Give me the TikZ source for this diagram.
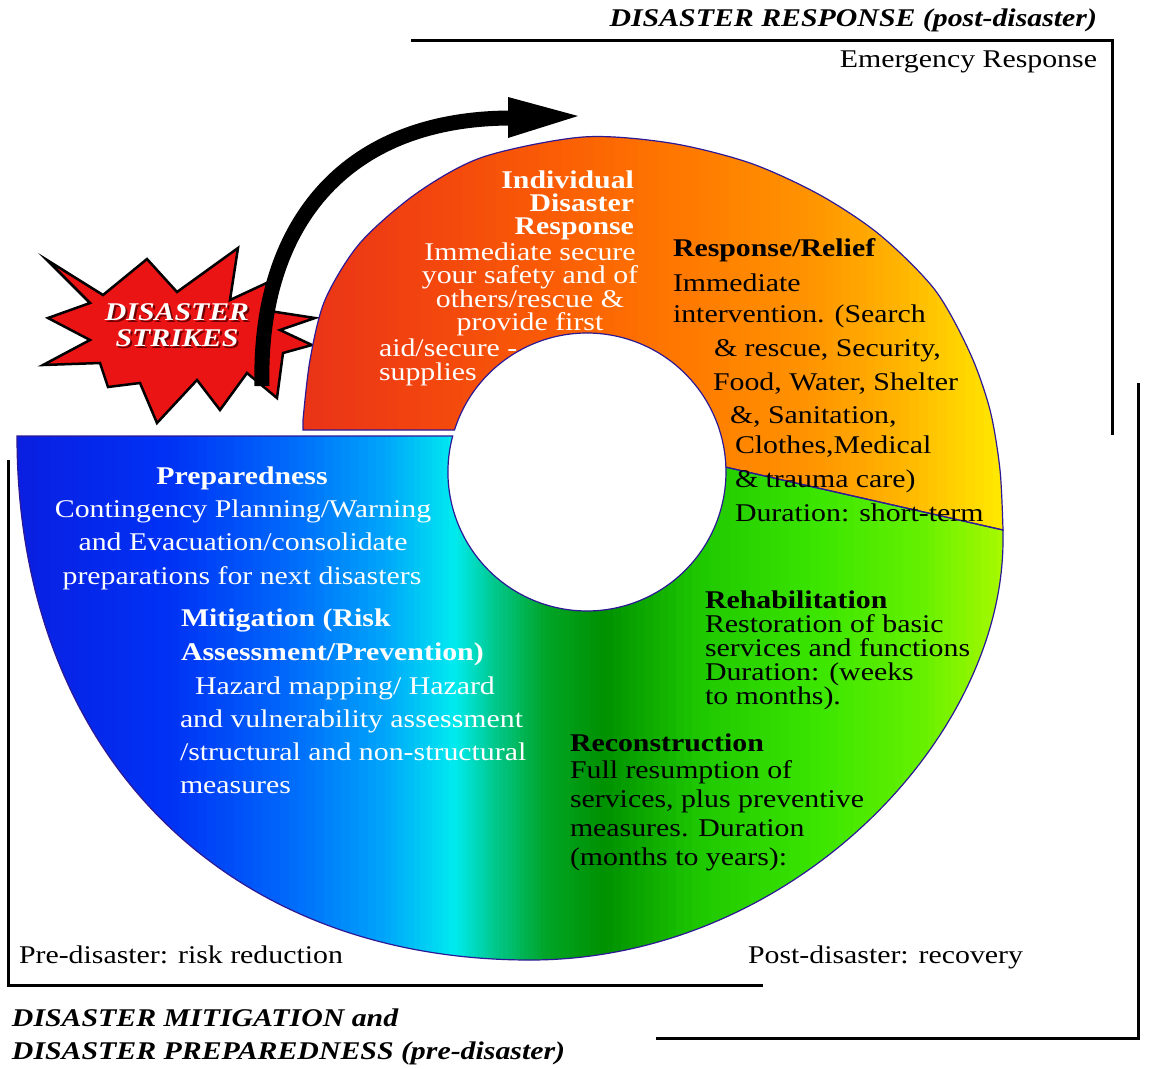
\documentclass[tikz,border=0pt]{standalone}
\usepackage{fontspec}
\setmainfont{Liberation Serif}[FakeStretch=1.17]
\usetikzlibrary{calc}
\definecolor{l1}{RGB}{10,30,225}
\definecolor{l2}{RGB}{0,50,245}
\definecolor{l3}{RGB}{0,100,250}
\definecolor{l4}{RGB}{0,165,250}
\definecolor{l5}{RGB}{0,235,240}
\definecolor{l6}{RGB}{0,200,140}
\definecolor{l7}{RGB}{0,165,40}
\definecolor{l8}{RGB}{0,145,0}
\definecolor{l9}{RGB}{30,200,0}
\definecolor{l10}{RGB}{60,230,0}
\definecolor{l11}{RGB}{100,240,0}
\definecolor{l12}{RGB}{175,250,0}
\definecolor{t1}{RGB}{232,50,25}
\definecolor{t2}{RGB}{242,68,15}
\definecolor{t3}{RGB}{250,92,5}
\definecolor{t4}{RGB}{255,120,0}
\definecolor{t5}{RGB}{255,145,0}
\definecolor{t6}{RGB}{255,180,0}
\definecolor{t7}{RGB}{255,238,0}
\definecolor{ringedge}{RGB}{45,25,150}
\definecolor{starred}{RGB}{235,20,20}
\definecolor{starshadow}{RGB}{110,0,0}
\newcommand\fs{\fontsize{25.5}{30}\selectfont}
\newcommand\shad[1]{\rlap{\kern2pt\raisebox{-2pt}{\color{starshadow}#1}}#1}
\newcommand\gstrips[4]{%
  \foreach \k in {0,...,11}{%
    \pgfmathsetmacro\xa{#1+(#2-#1)*\k/12}%
    \pgfmathsetmacro\xb{#1+(#2-#1)*(\k+1)/12+0.8}%
    \pgfmathsetmacro\pc{100*(\k+0.5)/12}%
    \colorlet{stripc}{#4!\pc!#3}%
    \fill[stripc] (\xa,100) rectangle (\xb,1000);%
  }}
\newcommand\toppath{(303,430) -- (454.5,430) arc[start angle=-162.4, end angle=-2, radius=139] -- (1003,530) -- plot[smooth] coordinates {(1003,530) (1000,470) (990,410) (970,353) (935,290) (880,235) (820,195) (750,163) (670,143) (583,137) (483,157) (417,193) (360,243) (325,300) (310,360) (303,420)} -- cycle}
\newcommand\lowpath{(17,436) -- (452.7,436) arc[start angle=195, end angle=-2, radius=139] -- (1003,530) -- (1003,540) .. controls (1003,740) and (790,960) .. (530,960) .. controls (222,960) and (17,750) .. (17,436) -- cycle}
\begin{document}
\begin{tikzpicture}[x=1pt,y=-1pt,
  every node/.style={inner sep=0pt,outer sep=0pt,font=\fs},
  wt/.style={text=white},
  bf/.style={font=\fs\bfseries},
  bi/.style={font=\fs\bfseries\itshape},
  tight/.style={text height=18pt,text depth=4pt},
  frame/.style={line width=3pt,black},
  ringline/.style={draw=ringedge,line width=1.2pt}]
\fill[white] (0,0) rectangle (1156,1068);
\path[use as bounding box] (0,0) rectangle (1156,1068);
% star
\filldraw[fill=starred,draw=black,line width=2.5pt,line join=miter]
 (47,260) -- (103,295) -- (147,259) -- (177,292) -- (238,248) -- (230,300) -- (273,280) -- (263,310) -- (315,318) -- (280,330) -- (312,345) -- (283,353) -- (277,398) -- (247,373) -- (220,410) -- (197,380) -- (157,423) -- (140,383) -- (108,387) -- (100,363) -- (43,365) -- (90,340) -- (48,318) -- (90,303) -- cycle;
% ring fills
\begin{scope}
 \clip \toppath;
 \gstrips{290}{420}{t1}{t2}
 \gstrips{420}{550}{t2}{t3}
 \gstrips{550}{680}{t3}{t4}
 \gstrips{680}{800}{t4}{t5}
 \gstrips{800}{900}{t5}{t6}
 \gstrips{900}{1012}{t6}{t7}
\end{scope}
\begin{scope}
 \clip \lowpath;
 \gstrips{10}{170}{l1}{l2}
 \gstrips{170}{280}{l2}{l3}
 \gstrips{280}{385}{l3}{l4}
 \gstrips{385}{455}{l4}{l5}
 \gstrips{455}{495}{l5}{l6}
 \gstrips{495}{545}{l6}{l7}
 \gstrips{545}{605}{l7}{l8}
 \gstrips{605}{700}{l8}{l9}
 \gstrips{700}{820}{l9}{l10}
 \gstrips{820}{920}{l10}{l11}
 \gstrips{920}{1012}{l11}{l12}
\end{scope}
\draw[ringline] \toppath;
\draw[ringline] \lowpath;
% arrow
\coordinate (aS) at (262,386);
\coordinate (aE) at (512,118);
\draw[line width=15pt] (aS) .. controls (258,230) and (340,118) .. (aE);
\fill (508,97) -- (578,116) -- (508,138) -- cycle;
% frame lines
\draw[frame] (411,40) -- (1112,40) -- (1112,435);
\draw[frame] (1138,383) -- (1138,1038) -- (656,1038);
\draw[frame] (8,460) -- (8,985) -- (763,985);
% titles
\node[bi,anchor=base east] (tr1) at (1097,27) {DISASTER RESPONSE (post-disaster)};
\node[anchor=base east] (tr2) at (1097,67) {Emergency Response};
% star text
\node[bi,tight,anchor=base,text=white] (ds1) at (177,320) {\shad{DISASTER}};
\node[bi,tight,anchor=base,text=white] (ds2) at (177,346) {\shad{STRIKES}};
% individual
\node[wt,align=right,anchor=north east,font=\fontsize{25.5}{23}\selectfont\bfseries] (ind) at (634,171) {Individual\\Disaster\\Response};
\node[wt,align=center,anchor=north,font=\fontsize{25.5}{23}\selectfont] (indb) at (530,243) {Immediate secure\\your safety and of\\others/rescue \&\\provide first};
\node[wt,align=left,anchor=north west,font=\fontsize{25.5}{24}\selectfont] (indc) at (379,339) {aid/secure -\\supplies};
% response relief
\node[bf,anchor=base west] (r1) at (673,256) {Response/Relief};
\node[anchor=base west] (r2) at (673,291) {Immediate};
\node[anchor=base west] (r3) at (673,322) {intervention. (Search};
\node[anchor=base west] (r4) at (714,356) {\& rescue, Security,};
\node[anchor=base west] (r5) at (713,390) {Food, Water, Shelter};
\node[anchor=base west] (r6) at (730,423) {\&, Sanitation,};
\node[anchor=base west] (r7) at (735,453) {Clothes,Medical};
\node[anchor=base west] (r8) at (735,487) {\& trauma care)};
\node[anchor=base west] (r9) at (735,521) {Duration: short-term};
% preparedness
\node[wt,bf,anchor=base] (p1) at (242,484) {Preparedness};
\node[wt,anchor=base] (p2) at (243,517) {Contingency Planning/Warning};
\node[wt,anchor=base] (p3) at (243,550) {and Evacuation/consolidate};
\node[wt,anchor=base] (p4) at (242,584) {preparations for next disasters};
% mitigation
\node[wt,bf,anchor=base west] (m1) at (181,626) {Mitigation (Risk};
\node[wt,bf,anchor=base west] (m2) at (181,660) {Assessment/Prevention)};
\node[wt,anchor=base west] (m3) at (195,694) {Hazard mapping/ Hazard};
\node[wt,anchor=base west] (m4) at (180,727) {and vulnerability assessment};
\node[wt,anchor=base west] (m5) at (180,760) {/structural and non-structural};
\node[wt,anchor=base west] (m6) at (180,793) {measures};
% rehabilitation
\node[bf,tight,anchor=base west] (h1) at (705,608) {Rehabilitation};
\node[tight,anchor=base west] (h2) at (705,632) {Restoration of basic};
\node[tight,anchor=base west] (h3) at (705,656) {services and functions};
\node[tight,anchor=base west] (h4) at (705,680) {Duration: (weeks};
\node[tight,anchor=base west] (h5) at (705,704) {to months).};
% reconstruction
\node[bf,anchor=base west] (c1) at (570,751) {Reconstruction};
\node[anchor=base west] (c2) at (570,778) {Full resumption of};
\node[anchor=base west] (c3) at (570,807) {services, plus preventive};
\node[anchor=base west] (c4) at (570,836) {measures. Duration};
\node[anchor=base west] (c5) at (570,865) {(months to years):};
% bottom
\node[anchor=base west] (b1) at (19,963) {Pre-disaster: risk reduction};
\node[anchor=base west] (b2) at (748,963) {Post-disaster: recovery};
\node[bi,anchor=base west] (b3) at (12,1026) {DISASTER MITIGATION and};
\node[bi,anchor=base west] (b4) at (12,1059) {DISASTER PREPAREDNESS (pre-disaster)};
\end{tikzpicture}
\end{document}
